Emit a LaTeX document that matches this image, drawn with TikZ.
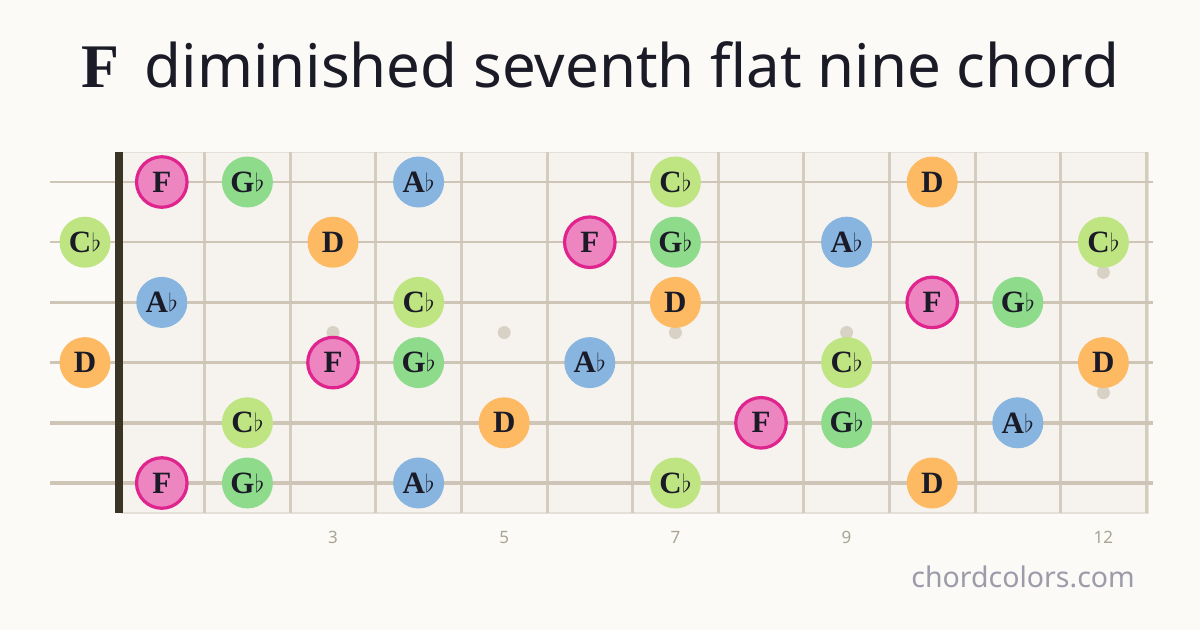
\documentclass[tikz,border=0pt]{standalone}
\usepackage{fontspec}
\setmainfont{Liberation Serif}
\newfontfamily\titlesans{Noto Sans}
\newfontfamily\smallsans{Noto Sans}
\definecolor{bg}{HTML}{FBFAF6}
\definecolor{board}{HTML}{F6F3EE}
\definecolor{boardedge}{HTML}{E4DFD7}
\definecolor{fretc}{HTML}{D4CCBF}
\definecolor{stringc}{HTML}{CEC5B7}
\definecolor{nutc}{HTML}{3A3424}
\definecolor{dotc}{HTML}{D8D1C5}
\definecolor{ink}{HTML}{1B1B27}
\definecolor{numc}{HTML}{A9A493}
\definecolor{sitec}{HTML}{9C9BAA}
\definecolor{fF}{HTML}{EC85C0}
\definecolor{fFb}{HTML}{E0248E}
\definecolor{fG}{HTML}{8EDC8B}
\definecolor{fA}{HTML}{87B5E0}
\definecolor{fC}{HTML}{BFE582}
\definecolor{fD}{HTML}{FDBA63}
\newcommand{\fl}{\kern0.3pt\raisebox{1pt}{\fontsize{24}{24}\selectfont$\flat$}}
\tikzset{
  notebase/.style={circle, inner sep=0pt, minimum size=51pt, text=ink,
    font=\fontsize{31}{31}\selectfont\bfseries},
  nF/.style={notebase, fill=fF, draw=fFb, line width=3.2pt, minimum size=50.5pt},
  nG/.style={notebase, fill=fG},
  nA/.style={notebase, fill=fA},
  nC/.style={notebase, fill=fC},
  nD/.style={notebase, fill=fD},
  fretline/.style={draw=fretc, line width=3pt},
  inlay/.style={circle, fill=dotc, inner sep=0pt, minimum size=13pt},
  fretnum/.style={text=numc, font=\smallsans\fontsize{17}{17}\selectfont, anchor=base},
}
\begin{document}
\begin{tikzpicture}[x=1pt,y=-1pt]
\useasboundingbox (0,0) rectangle (1200,630);
\fill[bg] (0,0) rectangle (1200,630);
% title
\node[anchor=base, inner sep=0pt, text=ink] (title) at (600.5,87)
  {{\fontsize{62}{62}\selectfont\bfseries F}\hspace{25pt}{\titlesans\fontsize{60}{60}\selectfont diminished seventh flat nine chord}};
% board
\path[fill=board, draw=boardedge, line width=1.2pt] (122,152.5) rectangle (1148,513) ;
% frets
\foreach \n in {1,...,12}{
  \draw[fretline] ({119+85.6*\n},152) -- ({119+85.6*\n},513);
}
% inlays
\foreach \n [count=\i] in {3,5,7,9}{
  \node[inlay] (dot\i) at ({119+85.6*(\n-0.5)},332.5) {};
}
\node[inlay] (dot12a) at ({119+85.6*11.5},272.3) {};
\node[inlay] (dot12b) at ({119+85.6*11.5},392.7) {};
% strings
\foreach \s/\w in {1/2.0,2/2.5,3/3.0,4/3.5,5/4.0,6/4.5}{
  \draw[stringc, line width=\w pt] (50,{182+60.2*(\s-1)}) -- (1153,{182+60.2*(\s-1)});
}
% nut
\fill[nutc] (115,152) rectangle (123,513);
% notes: string / fret / style / label  (fret 0 = open)
\foreach \s/\f/\st/\lab in {
  1/1/nF/F, 1/2/nG/G\fl, 1/4/nA/A\fl, 1/7/nC/C\fl, 1/10/nD/D,
  2/0/nC/C\fl, 2/3/nD/D, 2/6/nF/F, 2/7/nG/G\fl, 2/9/nA/A\fl, 2/12/nC/C\fl,
  3/1/nA/A\fl, 3/4/nC/C\fl, 3/7/nD/D, 3/10/nF/F, 3/11/nG/G\fl,
  4/0/nD/D, 4/3/nF/F, 4/4/nG/G\fl, 4/6/nA/A\fl, 4/9/nC/C\fl, 4/12/nD/D,
  5/2/nC/C\fl, 5/5/nD/D, 5/8/nF/F, 5/9/nG/G\fl, 5/11/nA/A\fl,
  6/1/nF/F, 6/2/nG/G\fl, 6/4/nA/A\fl, 6/7/nC/C\fl, 6/10/nD/D}{
  \ifnum\f=0
    \node[\st] (n\s-\f) at (85,{182+60.2*(\s-1)}) {\lab};
  \else
    \node[\st] (n\s-\f) at ({119+85.6*(\f-0.5)},{182+60.2*(\s-1)}) {\lab};
  \fi
}
% fret numbers
\foreach \n in {3,5,7,9,12}{
  \node[fretnum] (num\n) at ({119+85.6*(\n-0.5)},543) {\n};
}
% site
\node[anchor=base east, inner sep=0pt, text=sitec, font=\smallsans\fontsize{28.5}{28.5}\selectfont] (site) at (1135,587) {chordcolors.com};
\end{tikzpicture}
\end{document}
